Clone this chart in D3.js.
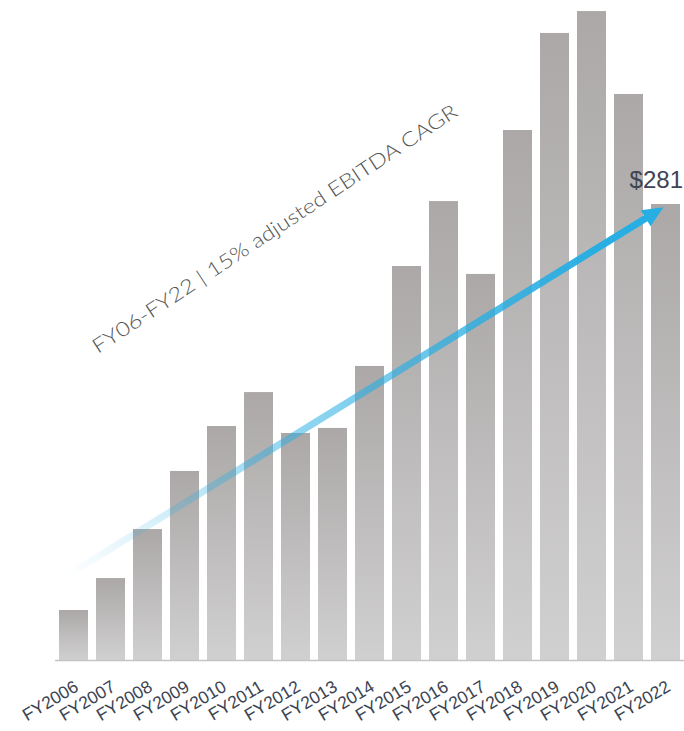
<!DOCTYPE html>
<html>
<head>
<meta charset="utf-8">
<script src="https://cdn.jsdelivr.net/npm/d3@7"></script>
<style>
  html, body { margin: 0; padding: 0; background: #ffffff; }
  svg { display: block; }
</style>
</head>
<body>
<svg id="chart" width="684" height="731"></svg>
<script>
// Adjusted EBITDA by fiscal year ($M)
const years = ["FY2006","FY2007","FY2008","FY2009","FY2010","FY2011","FY2012","FY2013","FY2014",
               "FY2015","FY2016","FY2017","FY2018","FY2019","FY2020","FY2021","FY2022"];
const ebitda = [30.8, 50.5, 80.7, 116.5, 144.2, 165.1, 139.9, 143.0, 181.2,
                242.8, 282.8, 237.9, 326.6, 386.4, 399.9, 348.8, 281];
const labelledYear = "FY2022";
const labelledValue = 281;
const trendTitle = "FY06-FY22 | 15% adjusted EBITDA CAGR";
// Trend arrow end points: [year, value]
const trendFrom = ["FY2006", 52];
const trendTo = ["FY2022", 279];

const svg = d3.select("#chart");
const defs = svg.append("defs");

const x = d3.scaleBand()
  .domain(years)
  .range([55, 684])
  .paddingInner(0.216)
  .paddingOuter(0.108);

const y = d3.scaleLinear()
  .domain([0, labelledValue])
  .range([660, 204]);

// Vertical grey gradient for each bar
const barGrad = defs.append("linearGradient")
  .attr("id", "barGrad")
  .attr("x1", 0).attr("y1", 0).attr("x2", 0).attr("y2", 1);
barGrad.append("stop").attr("offset", "0%").attr("stop-color", "#aba8a7");
barGrad.append("stop").attr("offset", "100%").attr("stop-color", "#d1d0d1");

svg.append("g")
  .selectAll("rect")
  .data(years.map((yr, i) => ({ yr, v: ebitda[i] })))
  .join("rect")
  .attr("x", d => x(d.yr))
  .attr("y", d => y(d.v))
  .attr("width", x.bandwidth())
  .attr("height", d => y(0) - y(d.v))
  .attr("fill", "url(#barGrad)");

// Baseline axis with rotated year labels
const axis = d3.axisBottom(x).tickSize(0).tickPadding(0);
const gx = svg.append("g")
  .attr("transform", `translate(0,${y(0)})`)
  .call(axis);
gx.select(".domain")
  .attr("d", "M55,0.5H684")
  .attr("stroke", "#c4c4c4")
  .attr("stroke-width", 1.6);
gx.selectAll(".tick text")
  .attr("font-family", "Liberation Sans, Arial, sans-serif")
  .attr("font-size", 17.5)
  .attr("fill", "#3b4453")
  .attr("text-anchor", "end")
  .attr("dy", 0)
  .attr("y", 0)
  .attr("transform", "translate(6,30) rotate(-31)");

// Trend arrow with fading stroke
const x0 = x(trendFrom[0]) + 8, y0 = y(trendFrom[1]);
const x1 = x(trendTo[0]) + x.bandwidth() / 2 - 2, y1 = y(trendTo[1]);
const ang = Math.atan2(y1 - y0, x1 - x0);
const headLen = 21, headHalf = 9.5;
const bx = x1 - headLen * Math.cos(ang), by = y1 - headLen * Math.sin(ang);

const arrowGrad = defs.append("linearGradient")
  .attr("id", "arrowGrad")
  .attr("gradientUnits", "userSpaceOnUse")
  .attr("x1", x0).attr("y1", y0).attr("x2", x1).attr("y2", y1);
[[0, 0], [0.14, 0.17], [0.32, 0.45], [0.59, 0.68], [0.8, 0.9], [0.9, 1], [1, 1]].forEach(([o, a]) => {
  arrowGrad.append("stop")
    .attr("offset", o)
    .attr("stop-color", "#27aee3")
    .attr("stop-opacity", a);
});

svg.append("line")
  .attr("x1", x0).attr("y1", y0)
  .attr("x2", bx + 2 * Math.cos(ang)).attr("y2", by + 2 * Math.sin(ang))
  .attr("stroke", "url(#arrowGrad)")
  .attr("stroke-width", 7);

const px = -Math.sin(ang), py = Math.cos(ang);
svg.append("path")
  .attr("d", `M${x1},${y1}L${bx + px * headHalf},${by + py * headHalf}L${bx - px * headHalf},${by - py * headHalf}Z`)
  .attr("fill", "#27aee3");

// Value label for the final year
svg.append("text")
  .attr("x", 683)
  .attr("y", y(labelledValue) - 16)
  .attr("text-anchor", "end")
  .attr("font-family", "Liberation Sans, Arial, sans-serif")
  .attr("font-size", 24)
  .attr("fill", "#3d4452")
  .text("$" + labelledValue);

// CAGR caption along the trend
svg.append("text")
  .attr("transform", "translate(98,354) rotate(-33.5)")
  .attr("font-family", "Lato, 'Open Sans', sans-serif")
  .attr("font-weight", 300)
  .attr("font-size", 20)
  .attr("fill", "#555555")
  .attr("textLength", 433)
  .attr("lengthAdjust", "spacingAndGlyphs")
  .text(trendTitle);
</script>
</body>
</html>
